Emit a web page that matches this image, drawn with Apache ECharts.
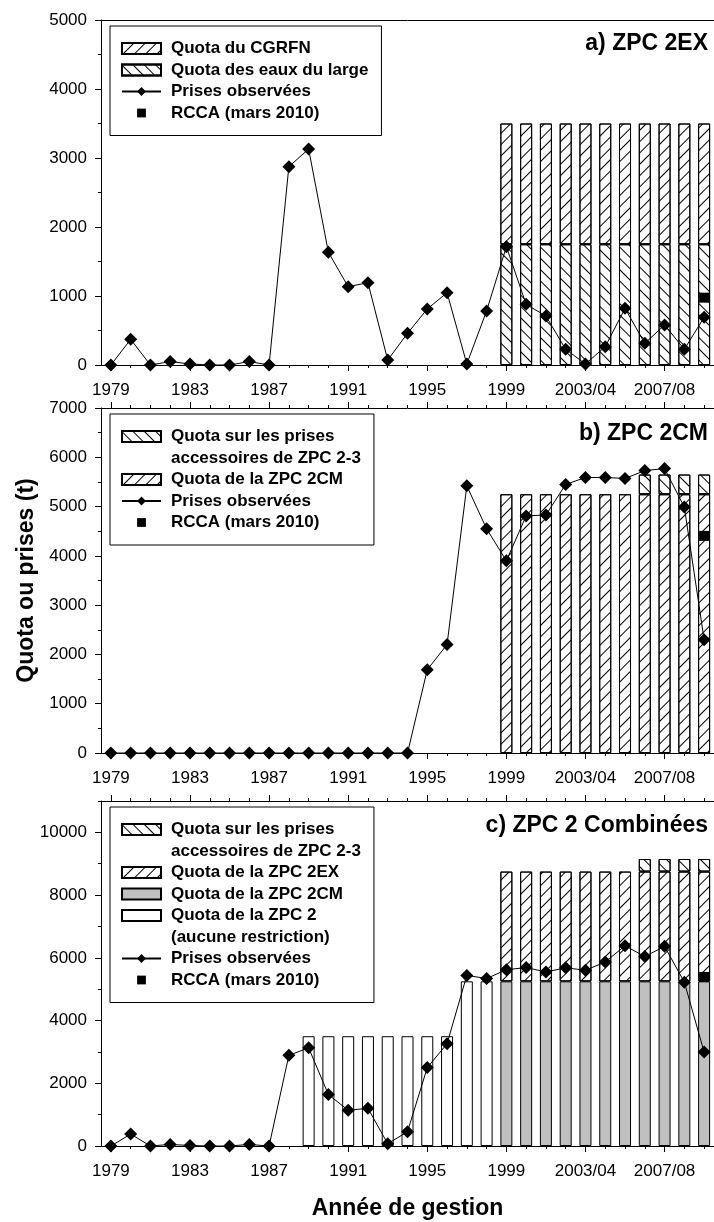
<!DOCTYPE html>
<html><head><meta charset="utf-8">
<script src="https://cdn.jsdelivr.net/npm/echarts@6/dist/echarts.min.js"></script>
<style>html,body{margin:0;padding:0;background:#fff}#c{width:714px;height:1222px}</style>
</head><body><div id="c"></div>
<script>
// ---------- DATA ----------
const years = ['1979','1980','1981','1982','1983','1984','1985','1986','1987','1988','1989','1990','1991','1992','1993','1994','1995','1996','1997','1998','1999','2000','2001','2002','2003/04','2004/05','2005/06','2006/07','2007/08','2008/09','2009/10'];
const yTicksA = [0, 5000, 1000];
const yTicksB = [0, 7000, 1000];
const yTicksC = [0, 11000, 2000];

// a) ZPC 2EX
const catchA = [0,372,0,50,15,0,0,50,0,2874,3130,1633,1135,1193,72,459,812,1048,15,783,1715,879,710,227,15,266,821,314,580,227,691];
const quotaLargeA = [null,null,null,null,null,null,null,null,null,null,null,null,null,null,null,null,null,null,null,null,1750,1750,1750,1750,1750,1750,1750,1750,1750,1750,1750];
const quotaCGRFNA = [null,null,null,null,null,null,null,null,null,null,null,null,null,null,null,null,null,null,null,null,1750,1750,1750,1750,1750,1750,1750,1750,1750,1750,1750];
const rccaA = [null,null,null,null,null,null,null,null,null,null,null,null,null,null,null,null,null,null,null,null,null,null,null,null,null,null,null,null,null,null,976];

// b) ZPC 2CM
const catchB = [0,0,0,0,0,0,0,0,0,0,0,0,0,0,0,0,1690,2200,5420,4550,3900,4810,4830,5450,5590,5590,5570,5730,5770,4990,2300];
const quota2CMB = [null,null,null,null,null,null,null,null,null,null,null,null,null,null,null,null,null,null,null,null,5250,5250,5250,5250,5250,5250,5250,5250,5250,5250,5250];
const accessB = [null,null,null,null,null,null,null,null,null,null,null,null,null,null,null,null,null,null,null,null,null,null,null,null,null,null,null,400,400,400,400];
const rccaB = [null,null,null,null,null,null,null,null,null,null,null,null,null,null,null,null,null,null,null,null,null,null,null,null,null,null,null,null,null,null,4405];

// c) ZPC 2 Combinées
const catchC = [0,380,0,50,15,0,0,50,0,2890,3130,1640,1140,1200,72,455,2500,3260,5440,5340,5620,5690,5550,5680,5605,5865,6385,6040,6365,5225,2995];
const quota2C = [null,null,null,null,null,null,null,null,null,null,3500,3500,3500,3500,3500,3500,3500,3500,5250,5250,null,null,null,null,null,null,null,null,null,null,null];
const quota2CMC = [null,null,null,null,null,null,null,null,null,null,null,null,null,null,null,null,null,null,null,null,5250,5250,5250,5250,5250,5250,5250,5250,5250,5250,5250];
const quota2EXC = [null,null,null,null,null,null,null,null,null,null,null,null,null,null,null,null,null,null,null,null,3500,3500,3500,3500,3500,3500,3500,3500,3500,3500,3500];
const accessC = [null,null,null,null,null,null,null,null,null,null,null,null,null,null,null,null,null,null,null,null,null,null,null,null,null,null,null,400,400,400,400];
const rccaC = [null,null,null,null,null,null,null,null,null,null,null,null,null,null,null,null,null,null,null,null,null,null,null,null,null,null,null,null,null,null,5390];

// ---------- STYLE ----------
const FONT = '"Liberation Sans", Arial, sans-serif';
const BLACK = '#000';
const FWD = {symbol:'rect', symbolSize:1, dashArrayX:[1,0], dashArrayY:[1,7], rotation:-Math.PI/4, color:BLACK};
const BACK = {symbol:'rect', symbolSize:1, dashArrayX:[1,0], dashArrayY:[1,7], rotation:Math.PI/4, color:BLACK};
const plain = v => String(v);

const grids = [
  {left:101, width:616, top:20, height:345},
  {left:101, width:616, top:408, height:345},
  {left:101, width:616, top:801, height:345}
];

function xMain(gi, extra) {
  return Object.assign({type:'category', gridIndex:gi, data:years, position:'bottom', boundaryGap:true,
    axisLine:{show:true, onZero:false, lineStyle:{color:BLACK, width:1}},
    axisTick:{show:true, alignWithLabel:true, interval:0, length:3, lineStyle:{color:BLACK}},
    axisLabel:{interval:3, margin:17, fontSize:17, color:BLACK, fontFamily:FONT},
    splitLine:{show:false}}, extra || {});
}
function xTicks(gi, pos, interval, len) {
  return {type:'category', gridIndex:gi, data:years, position:pos, boundaryGap:true,
    axisLine:{show:false, onZero:false},
    axisTick:{show:true, alignWithLabel:true, interval:interval, length:len, lineStyle:{color:BLACK}},
    axisLabel:{show:false}, splitLine:{show:false}};
}
function xTopLine(gi) {
  return {type:'category', gridIndex:gi, data:years, position:'top', boundaryGap:true,
    axisLine:{show:true, onZero:false, lineStyle:{color:BLACK, width:1}},
    axisTick:{show:false}, axisLabel:{show:false}, splitLine:{show:false}};
}
function yAx(gi, t, extra) {
  return Object.assign({type:'value', gridIndex:gi, min:t[0], max:t[1], interval:t[2], position:'left',
    axisLine:{show:true, onZero:false, lineStyle:{color:BLACK, width:1}},
    axisTick:{show:true, length:6, lineStyle:{color:BLACK}},
    minorTick:{show:true, splitNumber:2, length:3, lineStyle:{color:BLACK}},
    axisLabel:{margin:14, fontSize:17, color:BLACK, fontFamily:FONT, formatter:plain},
    splitLine:{show:false}, minorSplitLine:{show:false}}, extra || {});
}

const xAxis = [
  xMain(0), xTicks(0,'bottom',3,6), xTopLine(0),
  xMain(1), xTicks(1,'bottom',3,6), xTicks(1,'top',0,3), xTicks(1,'top',3,6), xTopLine(1),
  xMain(2, {name:'Année de gestion', nameLocation:'middle', nameGap:51,
    nameTextStyle:{fontSize:23, fontWeight:'bold', color:BLACK, fontFamily:FONT}}),
  xTicks(2,'bottom',3,6), xTicks(2,'top',0,3), xTicks(2,'top',3,6), xTopLine(2)
];
const XA = 0, XB = 3, XC = 8;

const yAxis = [
  yAx(0, yTicksA),
  yAx(1, yTicksB, {name:'Quota ou prises (t)', nameLocation:'middle', nameGap:62, nameRotate:90,
    nameTextStyle:{fontSize:23, fontWeight:'bold', color:BLACK, fontFamily:FONT}}),
  yAx(2, yTicksC, {minorTick:{show:false}, axisLabel:{margin:14, fontSize:17, color:BLACK, fontFamily:FONT, showMaxLabel:false, formatter:plain}}),
  yAx(2, [0, 11000, 1000], {axisLine:{show:false, onZero:false}, axisTick:{show:true, length:3, lineStyle:{color:BLACK}}, minorTick:{show:false}, axisLabel:{show:false}})
];

function bar(name, xi, yi, stack, data, color, decal) {
  const it = {color:color, borderColor:BLACK, borderWidth:1};
  if (decal) it.decal = decal;
  return {type:'bar', name, xAxisIndex:xi, yAxisIndex:yi, stack, data, barWidth:12, itemStyle:it, silent:true};
}
function catches(xi, yi, data) {
  return {type:'line', name:'Prises observées', xAxisIndex:xi, yAxisIndex:yi, data, symbol:'diamond', symbolSize:13,
    showAllSymbol:true, itemStyle:{color:BLACK}, lineStyle:{color:BLACK, width:1}, z:5, silent:true};
}
function rcca(xi, yi, data) {
  return {type:'line', name:'RCCA (mars 2010)', xAxisIndex:xi, yAxisIndex:yi, data, symbol:'rect', symbolSize:10,
    itemStyle:{color:BLACK}, lineStyle:{width:0, color:BLACK}, z:6, silent:true};
}

const series = [
  bar('Quota des eaux du large', XA, 0, 'a', quotaLargeA, '#fff', BACK),
  bar('Quota du CGRFN', XA, 0, 'a', quotaCGRFNA, '#fff', FWD),
  catches(XA, 0, catchA), rcca(XA, 0, rccaA),

  bar('Quota de la ZPC 2CM', XB, 1, 'b', quota2CMB, '#fff', FWD),
  bar('Quota sur les prises', XB, 1, 'b', accessB, '#fff', BACK),
  catches(XB, 1, catchB), rcca(XB, 1, rccaB),

  bar('Quota de la ZPC 2', XC, 2, 'c', quota2C, '#fff', null),
  bar('Quota de la ZPC 2CM ', XC, 2, 'c', quota2CMC, '#c0c0c0', null),
  bar('Quota de la ZPC 2EX', XC, 2, 'c', quota2EXC, '#fff', FWD),
  bar('Quota sur les prises', XC, 2, 'c', accessC, '#fff', BACK),
  catches(XC, 2, catchC), rcca(XC, 2, rccaC),

  {type:'line', name:'accessoires de ZPC 2-3', xAxisIndex:XA, yAxisIndex:0, data:[], silent:true},
  {type:'line', name:'(aucune restriction)', xAxisIndex:XA, yAxisIndex:0, data:[], silent:true}
];

const R = n => ({name:n, icon:'rect'});
function legend(top, data) {
  return {orient:'vertical', left:110, top, data, selectedMode:false, itemWidth:39, itemHeight:11, itemGap:4.5,
    padding:[14,13,14,11], borderColor:BLACK, borderWidth:1, backgroundColor:'#fff',
    textStyle:{fontSize:17, fontWeight:'bold', fontFamily:FONT, color:BLACK, lineHeight:17, padding:[0,0,0,5]}};
}
const legends = [
  legend(26, [R('Quota du CGRFN'), R('Quota des eaux du large'), 'Prises observées', 'RCCA (mars 2010)']),
  legend(414, [R('Quota sur les prises'), {name:'accessoires de ZPC 2-3', icon:'none'}, R('Quota de la ZPC 2CM'), 'Prises observées', 'RCCA (mars 2010)']),
  legend(807, [R('Quota sur les prises'), {name:'accessoires de ZPC 2-3', icon:'none'}, R('Quota de la ZPC 2EX'), R('Quota de la ZPC 2CM '), R('Quota de la ZPC 2'), {name:'(aucune restriction)', icon:'none'}, 'Prises observées', 'RCCA (mars 2010)'])
];

function title(text, top) {
  return {text, right:6, top, padding:0, textStyle:{fontSize:23, fontWeight:'bold', fontFamily:FONT, color:BLACK}};
}

const chart = echarts.init(document.getElementById('c'), null, {renderer:'canvas'});
chart.setOption({
  animation:false,
  backgroundColor:'#fff',
  title:[title('a) ZPC 2EX', 32), title('b) ZPC 2CM', 422), title('c) ZPC 2 Combinées', 814)],
  legend:legends,
  grid:grids,
  xAxis, yAxis, series
});
</script></body></html>
